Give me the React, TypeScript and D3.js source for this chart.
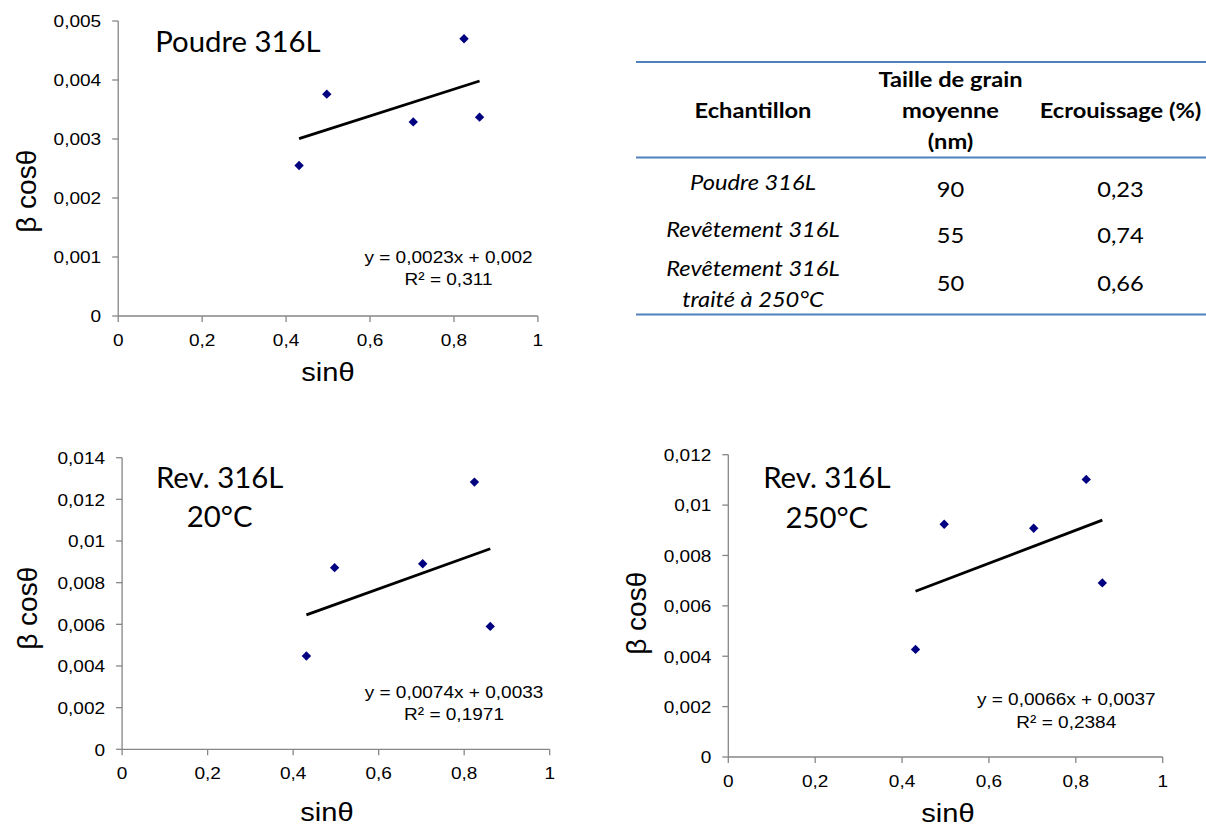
import React from "react";
import * as d3 from "d3";

// ---------- DATA ----------
const sinTheta = [0.431, 0.497, 0.703, 0.824, 0.861];
const powderBetaCos = [0.00255, 0.00376, 0.00329, 0.0047, 0.00337];
const rev20BetaCos = [0.00448, 0.00872, 0.00891, 0.01283, 0.0059];
const rev250BetaCos = [0.00427, 0.00924, 0.00908, 0.01102, 0.00691];

const xTicks = [0, 0.2, 0.4, 0.6, 0.8, 1];
const yTicksPowder = [0, 0.001, 0.002, 0.003, 0.004, 0.005];
const yTicksRev20 = [0, 0.002, 0.004, 0.006, 0.008, 0.01, 0.012, 0.014];
const yTicksRev250 = [0, 0.002, 0.004, 0.006, 0.008, 0.01, 0.012];

const titlePowder = ["Poudre 316L"];
const titleRev20 = ["Rev. 316L", "20°C"];
const titleRev250 = ["Rev. 316L", "250°C"];

const eqPowder = ["y = 0,0023x + 0,002", "R² = 0,311"];
const eqRev20 = ["y = 0,0074x + 0,0033", "R² = 0,1971"];
const eqRev250 = ["y = 0,0066x + 0,0037", "R² = 0,2384"];

const tableHeaders = [["Echantillon"], ["Taille de grain", "moyenne", "(nm)"], ["Ecrouissage (%)"]];
const tableSamples = [["Poudre 316L"], ["Revêtement 316L"], ["Revêtement 316L", "traité à 250°C"]];
const tableGrain = [90, 55, 50];
const tableEcrouissage = [0.23, 0.74, 0.66];

// ---------- STYLE ----------
const ARIAL = "'Liberation Sans', Arial, sans-serif";
const CAL = "Lato, 'Open Sans', sans-serif";
const SX = 1.12;
const AXIS = "#868686";
const MARK = "#000080";
const BLUE = "#4f81bd";

const fmt = (v: number) => String(+v.toFixed(6)).replace(".", ",");

type TP = {
  x: number; y: number; size: number; anchor?: string; family?: string; sx?: number;
  weight?: string | number; italic?: boolean; rotate?: number; children: React.ReactNode; fill?: string;
};
const T = ({ x, y, size, anchor = "middle", family = ARIAL, sx = SX, weight, italic, rotate, children, fill = "#000" }: TP) => (
  <text
    transform={`translate(${x},${y})${rotate ? ` rotate(${rotate})` : ""} scale(${sx},1)`}
    textAnchor={anchor as any}
    fontSize={size}
    fontFamily={family}
    fontWeight={weight as any}
    fontStyle={italic ? "italic" : undefined}
    fill={fill}
  >
    {children}
  </text>
);

type ChartProps = {
  xs: number[]; ys: number[]; x0: number; x1: number; yTop: number; yBottom: number;
  yTicks: number[]; title: string[]; titleX: number; titleY: number[];
  eq: string[]; eqX: number; eqY: number[]; yLabX: number; yLabY: number; xLabX: number; xLabY: number;
};

function Chart(p: ChartProps) {
  const x = d3.scaleLinear().domain([0, 1]).range([p.x0, p.x1]);
  const yMax = p.yTicks[p.yTicks.length - 1];
  const y = d3.scaleLinear().domain([0, yMax]).range([p.yBottom, p.yTop]);
  const mx = d3.mean(p.xs)!;
  const my = d3.mean(p.ys)!;
  const sxy = d3.sum(p.xs, (v, i) => (v - mx) * (p.ys[i] - my));
  const sxx = d3.sum(p.xs, (v) => (v - mx) * (v - mx));
  const slope = sxy / sxx;
  const icpt = my - slope * mx;
  const [xa, xb] = d3.extent(p.xs) as [number, number];
  const line = d3.line<number>().x((v) => x(v)).y((v) => y(icpt + slope * v));
  const sym = d3.symbol(d3.symbolSquare, 44)()!;
  return (
    <g>
      {/* axes */}
      <line x1={p.x0} x2={p.x0} y1={p.yTop} y2={p.yBottom} stroke={AXIS} strokeWidth={1.3} />
      <line x1={p.x0} x2={p.x1} y1={p.yBottom} y2={p.yBottom} stroke={AXIS} strokeWidth={1.3} />
      {p.yTicks.map((t) => (
        <g key={"y" + t}>
          <line x1={p.x0 - 6} x2={p.x0} y1={y(t)} y2={y(t)} stroke={AXIS} strokeWidth={1.3} />
          <T x={p.x0 - 17} y={y(t) + 6.3} size={17} anchor="end">{fmt(t)}</T>
        </g>
      ))}
      {xTicks.map((t) => (
        <g key={"x" + t}>
          <line x1={x(t)} x2={x(t)} y1={p.yBottom} y2={p.yBottom + 6} stroke={AXIS} strokeWidth={1.3} />
          <T x={x(t)} y={p.yBottom + 29.5} size={17}>{fmt(t)}</T>
        </g>
      ))}
      {/* trendline */}
      <path d={line([xa, xb])!} stroke="#000" strokeWidth={2.8} fill="none" />
      {/* points */}
      {p.xs.map((v, i) => (
        <path key={i} d={sym} transform={`translate(${x(v)},${y(p.ys[i])}) rotate(45)`} fill={MARK} />
      ))}
      {/* title */}
      {p.title.map((s, i) => (
        <T key={s} x={p.titleX} y={p.titleY[i]} size={28.5} family={CAL} sx={1.03}>{s}</T>
      ))}
      {/* equation */}
      {p.eq.map((s, i) => (
        <T key={s} x={p.eqX} y={p.eqY[i]} size={17}>{s}</T>
      ))}
      {/* axis titles */}
      <T x={p.yLabX} y={p.yLabY} size={28} rotate={-90} sx={1}>β cosθ</T>
      <T x={p.xLabX} y={p.xLabY} size={26}>sinθ</T>
    </g>
  );
}

function Table() {
  const cols = [753, 950.5, 1120.5];
  const lines = [62, 157.5, 314.5];
  const headerY = [[118.3], [87.3, 118.3, 149.3], [118.3]];
  const sampleY = [[189.5], [236.7], [276, 306.7]];
  const valueY = [196.7, 242.7, 290.7];
  const size = 21.5;
  const sx = 1.1;
  return (
    <g>
      {lines.map((ly) => (
        <line key={ly} x1={636} x2={1206} y1={ly} y2={ly} stroke={BLUE} strokeWidth={2} />
      ))}
      {tableHeaders.map((h, c) =>
        h.map((s, k) => (
          <T key={c + s} x={cols[c]} y={headerY[c][k]} size={size} family={CAL} weight="bold" sx={sx}>{s}</T>
        ))
      )}
      {tableSamples.map((r, i) =>
        r.map((s, k) => (
          <T key={i + s + k} x={cols[0]} y={sampleY[i][k]} size={size} family={CAL} italic sx={sx}>{s}</T>
        ))
      )}
      {tableGrain.map((v, i) => (
        <T key={"g" + i} x={cols[1]} y={valueY[i]} size={size} family={CAL} sx={sx}>{String(v)}</T>
      ))}
      {tableEcrouissage.map((v, i) => (
        <T key={"e" + i} x={cols[2]} y={valueY[i]} size={size} family={CAL} sx={sx}>{fmt(v)}</T>
      ))}
    </g>
  );
}

export default function App() {
  return (
    <svg width={1206} height={828} style={{ position: "absolute", left: 0, top: 0, background: "#fff" }}>
      <rect width={1206} height={828} fill="#fff" />
      <Chart
        xs={sinTheta} ys={powderBetaCos} x0={118.2} x1={537.9} yTop={21} yBottom={316}
        yTicks={yTicksPowder} title={titlePowder} titleX={237.9} titleY={[52.3]}
        eq={eqPowder} eqX={448.5} eqY={[263.3, 284.5]}
        yLabX={36} yLabY={191.3} xLabX={328} xLabY={381}
      />
      <Chart
        xs={sinTheta} ys={rev20BetaCos} x0={122.1} x1={549.7} yTop={457.7} yBottom={749.3}
        yTicks={yTicksRev20} title={titleRev20} titleX={219.6} titleY={[488.3, 527.3]}
        eq={eqRev20} eqX={454} eqY={[697.7, 720]}
        yLabX={37} yLabY={608.3} xLabX={327} xLabY={821}
      />
      <Chart
        xs={sinTheta} ys={rev250BetaCos} x0={728.3} x1={1162.7} yTop={454.7} yBottom={757}
        yTicks={yTicksRev250} title={titleRev250} titleX={826.8} titleY={[487.7, 527.7]}
        eq={eqRev250} eqX={1066.3} eqY={[705, 728.3]}
        yLabX={646.4} yLabY={613.3} xLabX={948} xLabY={821.5}
      />
      <Table />
    </svg>
  );
}
